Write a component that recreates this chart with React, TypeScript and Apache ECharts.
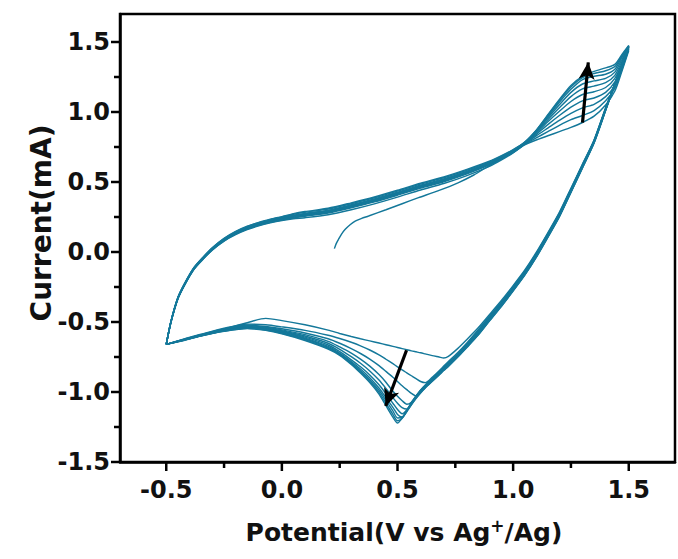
import React, { useEffect, useRef } from "react";
import * as echarts from "echarts";

// ---------- axes ----------
const X_MIN = -0.7;
const X_MAX = 1.7;
const Y_MIN = -1.5;
const Y_MAX = 1.7;
const X_MAJOR = [-0.5, 0, 0.5, 1, 1.5];
const X_MINOR = [-0.25, 0.25, 0.75, 1.25];
const Y_MAJOR = [-1.5, -1, -0.5, 0, 0.5, 1, 1.5];
const Y_MINOR = [-1.25, -0.75, -0.25, 0.25, 0.75, 1.25];
const X_TITLE = "Potential(V vs Ag{sup|+}/Ag)";
const Y_TITLE = "Current(mA)";

// ---------- potentials (V) ----------
const BASE_X = [-0.5, -0.48, -0.45, -0.42, -0.38, -0.34, -0.3, -0.25, -0.2, -0.15, -0.1, -0.05, 0.0, 0.05, 0.1, 0.2, 0.3, 0.4, 0.5, 0.6, 0.7, 0.8, 0.9, 0.95, 1.0];
const PEAK_X = [1.05, 1.1, 1.15, 1.2, 1.25, 1.3, 1.35, 1.4, 1.44, 1.47, 1.5];
const FIRST_X = [0.227, 0.235, 0.245, 0.258, 0.274, 0.295, 0.317, 0.345, 0.375, 0.45, 0.52, 0.591, 0.68, 0.764, 0.83, 0.88, 0.93, 1.0];
const CAT_X = [1.5, 1.47, 1.44, 1.4, 1.35, 1.3, 1.25, 1.2, 1.15, 1.1, 1.05, 1.0, 0.95, 0.9, 0.85, 0.8, 0.76, 0.72, 0.7, 0.68, 0.65, 0.62, 0.6, 0.58, 0.56, 0.54, 0.52, 0.5, 0.48, 0.45, 0.42, 0.38, 0.34, 0.3, 0.25, 0.2, 0.1, 0.0, -0.07, -0.15, -0.25, -0.35, -0.42, -0.5];

// ---------- currents (mA) ----------
// cycle 1 starts at open circuit potential
const FIRST_Y = [0.024, 0.06, 0.091, 0.128, 0.162, 0.195, 0.221, 0.24, 0.257, 0.302, 0.345, 0.388, 0.44, 0.496, 0.55, 0.6, 0.65, 0.712];
const PEAK_C1 = [0.765, 0.8, 0.83, 0.86, 0.89, 0.925, 0.97, 1.05, 1.15, 1.29, 1.44];

// anodic sweeps (-0.5 -> 1.5 V), cycles 2..10
const ANO_C2 = [-0.66, -0.505, -0.337, -0.235, -0.124, -0.05, 0.015, 0.078, 0.124, 0.16, 0.187, 0.208, 0.225, 0.238, 0.245, 0.266, 0.302, 0.344, 0.392, 0.443, 0.489, 0.546, 0.614, 0.658, 0.708, 0.768, 0.815, 0.86, 0.905, 0.945, 0.975, 1.01, 1.08, 1.17, 1.3, 1.45];
const ANO_C3 = [-0.66, -0.504, -0.335, -0.233, -0.122, -0.048, 0.017, 0.08, 0.127, 0.163, 0.19, 0.212, 0.229, 0.243, 0.255, 0.278, 0.316, 0.358, 0.406, 0.456, 0.502, 0.558, 0.624, 0.665, 0.712, 0.77, 0.83, 0.885, 0.94, 0.99, 1.03, 1.055, 1.11, 1.19, 1.315, 1.455];
const ANO_C4 = [-0.66, -0.503, -0.334, -0.231, -0.12, -0.046, 0.02, 0.083, 0.13, 0.166, 0.194, 0.216, 0.233, 0.248, 0.26, 0.283, 0.321, 0.363, 0.411, 0.461, 0.506, 0.562, 0.628, 0.668, 0.715, 0.773, 0.84, 0.91, 0.975, 1.035, 1.08, 1.1, 1.14, 1.215, 1.33, 1.46];
const ANO_C5 = [-0.66, -0.502, -0.332, -0.23, -0.119, -0.044, 0.022, 0.086, 0.133, 0.169, 0.197, 0.219, 0.237, 0.252, 0.264, 0.287, 0.325, 0.367, 0.415, 0.465, 0.51, 0.566, 0.631, 0.671, 0.717, 0.775, 0.85, 0.93, 1.005, 1.075, 1.125, 1.145, 1.175, 1.24, 1.345, 1.462];
const ANO_C6 = [-0.66, -0.501, -0.331, -0.229, -0.118, -0.043, 0.023, 0.088, 0.135, 0.172, 0.2, 0.222, 0.24, 0.256, 0.268, 0.291, 0.329, 0.371, 0.419, 0.469, 0.514, 0.569, 0.634, 0.674, 0.72, 0.777, 0.857, 0.945, 1.03, 1.11, 1.165, 1.185, 1.21, 1.262, 1.36, 1.465];
const ANO_C7 = [-0.66, -0.5, -0.33, -0.227, -0.116, -0.041, 0.025, 0.09, 0.138, 0.175, 0.203, 0.225, 0.244, 0.26, 0.272, 0.295, 0.333, 0.375, 0.423, 0.473, 0.518, 0.573, 0.637, 0.677, 0.722, 0.779, 0.862, 0.958, 1.052, 1.14, 1.2, 1.222, 1.24, 1.285, 1.375, 1.467];
const ANO_C8 = [-0.66, -0.499, -0.328, -0.226, -0.114, -0.039, 0.027, 0.092, 0.141, 0.178, 0.206, 0.228, 0.247, 0.263, 0.276, 0.299, 0.337, 0.379, 0.427, 0.477, 0.522, 0.576, 0.64, 0.68, 0.725, 0.781, 0.866, 0.967, 1.07, 1.162, 1.232, 1.255, 1.27, 1.305, 1.39, 1.47];
const ANO_C9 = [-0.66, -0.498, -0.327, -0.224, -0.112, -0.037, 0.03, 0.095, 0.144, 0.181, 0.209, 0.231, 0.25, 0.27, 0.284, 0.307, 0.345, 0.387, 0.435, 0.485, 0.53, 0.584, 0.646, 0.685, 0.728, 0.783, 0.868, 0.975, 1.082, 1.178, 1.245, 1.275, 1.295, 1.325, 1.4, 1.472];
const ANO_C10 = [-0.66, -0.497, -0.326, -0.222, -0.11, -0.035, 0.032, 0.098, 0.147, 0.184, 0.212, 0.234, 0.253, 0.274, 0.289, 0.312, 0.351, 0.393, 0.441, 0.491, 0.536, 0.59, 0.65, 0.688, 0.731, 0.785, 0.87, 0.98, 1.09, 1.19, 1.255, 1.29, 1.315, 1.34, 1.41, 1.475];

// cathodic sweeps (1.5 -> -0.5 V), cycles 1..10
const CAT_C1 = [1.44, 1.32, 1.2, 1.03, 0.8, 0.628, 0.455, 0.283, 0.137, -0.003, -0.13, -0.24, -0.345, -0.443, -0.54, -0.625, -0.69, -0.745, -0.757, -0.75, -0.74, -0.728, -0.72, -0.713, -0.706, -0.698, -0.69, -0.682, -0.674, -0.662, -0.65, -0.635, -0.62, -0.604, -0.582, -0.558, -0.52, -0.49, -0.474, -0.505, -0.55, -0.592, -0.622, -0.66];
const CAT_C2 = [1.45, 1.325, 1.2, 1.027, 0.797, 0.624, 0.45, 0.278, 0.131, -0.01, -0.137, -0.248, -0.355, -0.454, -0.554, -0.65, -0.72, -0.782, -0.815, -0.848, -0.895, -0.933, -0.925, -0.905, -0.884, -0.863, -0.842, -0.82, -0.798, -0.766, -0.735, -0.7, -0.67, -0.645, -0.618, -0.595, -0.56, -0.535, -0.52, -0.515, -0.545, -0.588, -0.62, -0.66];
const CAT_C3 = [1.455, 1.327, 1.2, 1.024, 0.794, 0.62, 0.446, 0.274, 0.127, -0.014, -0.142, -0.253, -0.361, -0.461, -0.562, -0.658, -0.728, -0.792, -0.824, -0.857, -0.903, -0.95, -0.985, -1.028, -1.01, -0.983, -0.955, -0.925, -0.895, -0.853, -0.812, -0.765, -0.725, -0.69, -0.652, -0.62, -0.578, -0.548, -0.532, -0.522, -0.55, -0.59, -0.622, -0.66];
const CAT_C4 = [1.46, 1.328, 1.2, 1.022, 0.792, 0.617, 0.443, 0.27, 0.123, -0.018, -0.146, -0.258, -0.366, -0.466, -0.568, -0.662, -0.732, -0.797, -0.828, -0.86, -0.906, -0.953, -0.988, -1.028, -1.073, -1.088, -1.062, -1.03, -0.995, -0.93, -0.875, -0.815, -0.765, -0.722, -0.678, -0.638, -0.59, -0.556, -0.538, -0.527, -0.553, -0.592, -0.624, -0.66];
const CAT_C5 = [1.462, 1.33, 1.2, 1.02, 0.79, 0.615, 0.44, 0.267, 0.12, -0.022, -0.15, -0.262, -0.37, -0.47, -0.573, -0.665, -0.735, -0.8, -0.83, -0.862, -0.908, -0.955, -0.99, -1.03, -1.075, -1.122, -1.112, -1.08, -1.04, -0.975, -0.915, -0.85, -0.795, -0.748, -0.695, -0.652, -0.6, -0.562, -0.543, -0.531, -0.556, -0.594, -0.625, -0.66];
const CAT_C6 = [1.465, 1.331, 1.2, 1.018, 0.787, 0.612, 0.437, 0.263, 0.116, -0.026, -0.154, -0.266, -0.374, -0.475, -0.578, -0.669, -0.739, -0.804, -0.834, -0.866, -0.912, -0.959, -0.994, -1.034, -1.079, -1.128, -1.155, -1.125, -1.08, -1.012, -0.948, -0.878, -0.82, -0.77, -0.712, -0.664, -0.608, -0.567, -0.547, -0.535, -0.559, -0.596, -0.626, -0.66];
const CAT_C7 = [1.467, 1.332, 1.2, 1.016, 0.785, 0.609, 0.434, 0.26, 0.113, -0.03, -0.158, -0.27, -0.378, -0.479, -0.582, -0.673, -0.743, -0.808, -0.838, -0.87, -0.916, -0.963, -0.998, -1.038, -1.083, -1.132, -1.178, -1.16, -1.11, -1.04, -0.972, -0.898, -0.836, -0.782, -0.722, -0.674, -0.615, -0.572, -0.551, -0.538, -0.561, -0.597, -0.627, -0.66];
const CAT_C8 = [1.47, 1.333, 1.2, 1.014, 0.782, 0.606, 0.431, 0.257, 0.11, -0.033, -0.161, -0.273, -0.381, -0.482, -0.586, -0.676, -0.746, -0.811, -0.841, -0.873, -0.919, -0.966, -1.001, -1.041, -1.086, -1.135, -1.182, -1.185, -1.135, -1.06, -0.988, -0.912, -0.848, -0.79, -0.728, -0.681, -0.62, -0.576, -0.554, -0.541, -0.563, -0.598, -0.628, -0.66];
const CAT_C9 = [1.472, 1.334, 1.2, 1.012, 0.78, 0.603, 0.428, 0.254, 0.107, -0.036, -0.164, -0.276, -0.384, -0.485, -0.589, -0.679, -0.749, -0.814, -0.844, -0.876, -0.922, -0.969, -1.004, -1.044, -1.089, -1.138, -1.185, -1.205, -1.16, -1.08, -1.003, -0.923, -0.857, -0.797, -0.733, -0.687, -0.626, -0.58, -0.557, -0.544, -0.565, -0.599, -0.629, -0.66];
const CAT_C10 = [1.475, 1.335, 1.2, 1.01, 0.778, 0.6, 0.425, 0.251, 0.104, -0.039, -0.167, -0.279, -0.387, -0.488, -0.592, -0.682, -0.752, -0.817, -0.847, -0.879, -0.925, -0.972, -1.007, -1.047, -1.092, -1.141, -1.188, -1.222, -1.18, -1.098, -1.015, -0.933, -0.865, -0.803, -0.738, -0.693, -0.632, -0.584, -0.56, -0.547, -0.567, -0.6, -0.63, -0.66];

// arrows showing the growth with cycle number
const ARROW_UP = [[1.3, 0.924], [1.325, 1.355]];
const ARROW_DOWN = [[0.539, -0.702], [0.449, -1.1]];

const LINE_COLOR = "#14789a";
const FONT = '"DejaVu Sans", "Liberation Sans", Arial, sans-serif';

const zip = (xs: number[], ys: number[]) => xs.map((x, i) => [x, ys[i]]);

export default function App() {
  const ref = useRef<HTMLDivElement>(null);
  useEffect(() => {
    if (!ref.current) return;
    const chart = echarts.init(ref.current, null, { renderer: "svg" });

    const anodic: number[][][] = [
      zip(FIRST_X.concat(PEAK_X), FIRST_Y.concat(PEAK_C1)),
      zip(BASE_X.concat(PEAK_X), ANO_C2),
      zip(BASE_X.concat(PEAK_X), ANO_C3),
      zip(BASE_X.concat(PEAK_X), ANO_C4),
      zip(BASE_X.concat(PEAK_X), ANO_C5),
      zip(BASE_X.concat(PEAK_X), ANO_C6),
      zip(BASE_X.concat(PEAK_X), ANO_C7),
      zip(BASE_X.concat(PEAK_X), ANO_C8),
      zip(BASE_X.concat(PEAK_X), ANO_C9),
      zip(BASE_X.concat(PEAK_X), ANO_C10),
    ];
    const cathodic = [CAT_C1, CAT_C2, CAT_C3, CAT_C4, CAT_C5, CAT_C6, CAT_C7, CAT_C8, CAT_C9, CAT_C10].map((ys) => zip(CAT_X, ys));

    const cycleSeries = anodic.map((a, i) => ({
      type: "line",
      name: "cycle " + (i + 1),
      data: a.concat(cathodic[i].slice(1)),
      showSymbol: false,
      symbol: "none",
      smooth: 0.25,
      silent: true,
      lineStyle: { color: LINE_COLOR, width: 1.45 },
      z: 2,
    }));

    const tickSeries = (data: number[][], dx: number, dy: number) => ({
      type: "custom",
      coordinateSystem: "cartesian2d",
      silent: true,
      clip: false,
      z: 10,
      data,
      renderItem: (_p: any, api: any) => {
        const pt = api.coord([api.value(0), api.value(1)]);
        return {
          type: "line",
          shape: { x1: pt[0], y1: pt[1], x2: pt[0] + dx, y2: pt[1] + dy },
          style: { stroke: "#000", lineWidth: 2.5 },
        };
      },
    });

    const arrowLine = (pts: number[][]) => [
      { coord: pts[0], symbol: "none" },
      { coord: pts[1], symbol: "arrow" },
    ];

    const labelFmt = (v: number) => {
      const r = Math.round(v * 2) / 2;
      return Math.abs(v - r) < 1e-6 ? r.toFixed(1) : "";
    };

    const axisLabel = {
      formatter: labelFmt,
      fontSize: 24,
      fontWeight: "bold",
      fontFamily: FONT,
      color: "#111",
    };

    chart.setOption({
      animation: false,
      backgroundColor: "#fff",
      grid: {
        left: 120,
        right: 3,
        top: 14,
        bottom: 97,
        show: true,
        borderColor: "#000",
        borderWidth: 2.5,
        backgroundColor: "transparent",
        containLabel: false,
        outerBoundsMode: "none",
      },
      xAxis: {
        type: "value",
        min: X_MIN,
        max: X_MAX,
        interval: 0.1,
        axisLine: { show: true, onZero: false, lineStyle: { color: "#000", width: 2.5 } },
        axisTick: { show: false },
        splitLine: { show: false },
        axisLabel: { ...axisLabel, margin: 16 },
      },
      yAxis: {
        type: "value",
        min: Y_MIN,
        max: Y_MAX,
        interval: 0.1,
        axisLine: { show: true, onZero: false, lineStyle: { color: "#000", width: 2.5 } },
        axisTick: { show: false },
        splitLine: { show: false },
        axisLabel: { ...axisLabel, margin: 10 },
      },
      series: [
        ...cycleSeries,
        tickSeries(X_MAJOR.map((v) => [v, Y_MIN]), 0, 9),
        tickSeries(X_MINOR.map((v) => [v, Y_MIN]), 0, 6),
        tickSeries(Y_MAJOR.map((v) => [X_MIN, v]), -9, 0),
        tickSeries(Y_MINOR.map((v) => [X_MIN, v]), -6, 0),
        {
          type: "line",
          data: [],
          silent: true,
          z: 5,
          markLine: {
            silent: true,
            animation: false,
            symbolSize: [12, 17],
            label: { show: false },
            lineStyle: { color: "#000", width: 3.2, type: "solid" },
            emphasis: { disabled: true },
            data: [arrowLine(ARROW_UP), arrowLine(ARROW_DOWN)],
          },
        },
      ],
      graphic: [
        {
          type: "text",
          x: 41,
          y: 223,
          rotation: Math.PI / 2,
          style: {
            text: Y_TITLE,
            font: `bold 28px ${FONT}`,
            fill: "#111",
            align: "center",
            verticalAlign: "middle",
          },
        },
        {
          type: "text",
          x: 404,
          y: 532,
          style: {
            text: X_TITLE,
            font: `bold 25px ${FONT}`,
            fontSize: 25,
            fontWeight: "bold",
            fontFamily: FONT,
            fill: "#111",
            align: "center",
            verticalAlign: "middle",
            lineHeight: 30,
            rich: {
              sup: { fontSize: 17, fontWeight: "bold", fontFamily: FONT, fill: "#111", verticalAlign: "top", lineHeight: 20 },
            },
          },
        },
      ],
    });

    return () => chart.dispose();
  }, []);

  return (
    <div
      ref={ref}
      style={{ position: "fixed", left: 0, top: 0, width: 678, height: 559, background: "#fff" }}
    />
  );
}
